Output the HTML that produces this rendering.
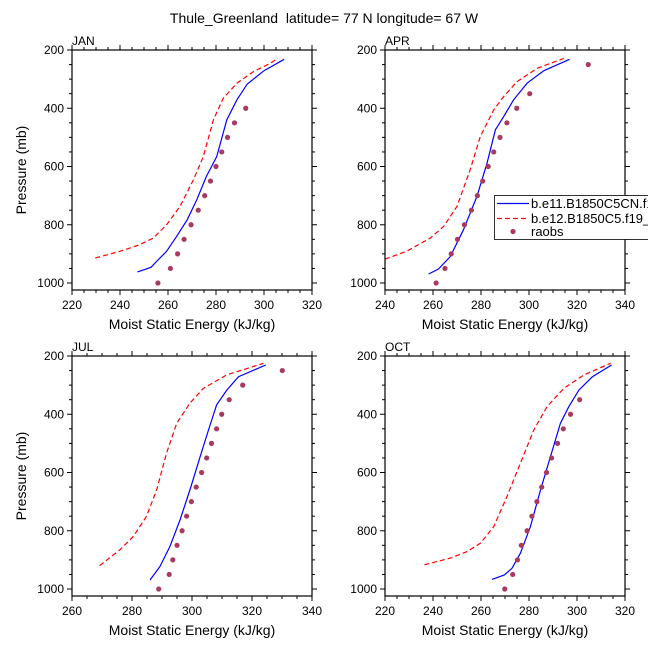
<!DOCTYPE html>
<html><head><meta charset="utf-8">
<style>
body{margin:0;background:#fff;}
svg text{font-family:"Liberation Sans",sans-serif;fill:#000;}
</style></head>
<body>
<svg id="chart" width="648" height="648" viewBox="0 0 648 648" xmlns="http://www.w3.org/2000/svg">
<text x="324" y="23" font-size="14" text-anchor="middle">Thule_Greenland&#160; latitude= 77 N longitude= 67 W</text>
</svg>
<script>
const panelNames = ["JAN","APR","JUL","OCT"];
const xMins = [220,240,260,220];
const xMaxs = [320,340,340,320];
const xTicks = [[220,240,260,280,300,320],[240,260,280,300,320,340],[260,280,300,320,340],[220,240,260,280,300,320]];
const yTicks = [200,400,600,800,1000];
const janBlueE = [247.3,252.9,255.2,259.4,263.6,268,272,276,280.3,284.5,288.7,293,300,308.4];
const janBlueP = [962,946,926,891,840,783,714,634,566,440,371,317,271,232];
const janRedE = [229.7,240,248,253.8,259.4,265,270.6,274.7,278.9,283,288.7,295.6,302.6,305.8];
const janRedP = [914,891,869,846,800,737,646,566,440,366,314,274,246,229];
const janObsP = [1000,950,900,850,800,750,700,650,600,550,500,450,400];
const janObsE = [255.8,261,264,266.7,269.6,272.6,275.3,277.7,280,282.4,284.8,287.7,292.4];
const aprBlueE = [258.2,262.3,267.2,272.7,278.3,282.5,286,289.4,293.6,299.2,306.2,316.9];
const aprBlueP = [969,952,909,817,703,589,474,429,371,314,271,232];
const aprRedE = [240,249,258.8,264.4,270,275.5,279.7,285.3,289.4,295,303.4,314.5];
const aprRedP = [918,891,846,806,737,611,497,406,360,309,263,229];
const aprObsP = [1000,950,900,850,800,750,700,650,600,550,500,450,400,350,250];
const aprObsE = [261.3,265,267.6,270.2,273.1,276,278.5,280.7,283,285.3,287.9,290.8,294.9,300.3,324.7];
const julBlueE = [286,289.3,292.6,296,299.3,302.7,305.5,308.2,311.6,315.5,324.6];
const julBlueP = [969,923,855,763,660,546,454,368,317,271,231];
const julRedE = [269.2,275.9,280.4,284.8,288.2,291.5,294.9,299.3,303.8,311.6,323.8];
const julRedP = [920,866,820,751,660,534,431,362,311,265,225];
const julObsP = [1000,950,900,850,800,750,700,650,600,550,500,450,400,350,300,250];
const julObsE = [288.9,292.4,293.6,295,296.7,298.2,299.8,301.4,303.2,304.9,306.5,308.2,309.9,312.4,316.9,330.1];
const octBlueE = [264.6,269.7,272.9,276.4,280.6,284.8,288.9,293.1,296.6,300.8,306.4,314.4];
const octBlueP = [967,952,929,877,786,660,546,431,374,317,271,231];
const octRedE = [236.4,247.2,254.1,259.7,265.3,270.8,276.4,282,287.5,294.5,302.9,314];
const octRedP = [917,894,872,843,786,683,568,454,374,311,265,225];
const octObsP = [1000,950,900,850,800,750,700,650,600,550,500,450,400,350];
const octObsE = [269.9,273.2,275.2,276.8,279.2,281.2,283.3,285.3,287.3,289.4,291.9,294.3,297.3,301.1];

const blueE=[janBlueE,aprBlueE,julBlueE,octBlueE], blueP=[janBlueP,aprBlueP,julBlueP,octBlueP];
const redE=[janRedE,aprRedE,julRedE,octRedE], redP=[janRedP,aprRedP,julRedP,octRedP];
const obsE=[janObsE,aprObsE,julObsE,octObsE], obsP=[janObsP,aprObsP,julObsP,octObsP];

const NS="http://www.w3.org/2000/svg";
const svg=document.getElementById('chart');
const boxes=[[72,50],[385,50],[72,356],[385,356]];
const W=240,H=240,PMIN=200,PMAX=1024;
function mk(tag,attrs,parent){const e=document.createElementNS(NS,tag);for(const k in attrs)e.setAttribute(k,attrs[k]);(parent||svg).appendChild(e);return e;}

for(let i=0;i<4;i++){
  const [x0,y0]=boxes[i];
  const xs=v=>x0+(v-xMins[i])/(xMaxs[i]-xMins[i])*W;
  const ys=p=>y0+(p-PMIN)/(PMAX-PMIN)*H;
  const g=mk('g',{});
  
  
  const clipId='clip'+i;
  const cp=mk('clipPath',{id:clipId},g);
  mk('rect',{x:x0,y:y0,width:W,height:H},cp);
  const tg=mk('g',{stroke:'#000','stroke-width':1},g);
  
  
  for(let v=xMins[i];v<=xMaxs[i]+0.01;v+=5){
    const maj=(v%20===0);const L=maj?5:3;const x=xs(v);
    mk('line',{x1:x,x2:x,y1:y0+H,y2:y0+H+L},tg);
    mk('line',{x1:x,x2:x,y1:y0,y2:y0-L},tg);
  }
  for(let p=200;p<=1000;p+=50){
    const maj=(p%200===0);const L=maj?5:3;const y=ys(p);
    mk('line',{x1:x0,x2:x0-L,y1:y,y2:y},tg);
    mk('line',{x1:x0+W,x2:x0+W+L,y1:y,y2:y},tg);
  }
  xTicks[i].forEach(v=>{const t=mk('text',{x:xs(v),y:y0+H+19,'font-size':12,'text-anchor':'middle'},g);t.textContent=v;
    });
  yTicks.forEach(p=>{const t=mk('text',{x:x0-8,y:ys(p)+4,'font-size':12,'text-anchor':'end'},g);t.textContent=p;
    });
  const pt=mk('text',{x:x0,y:y0-5,'font-size':12},g);pt.textContent=panelNames[i];
  
  const xt=mk('text',{x:x0+W/2,y:y0+H+39,'font-size':14,'text-anchor':'middle'},g);xt.textContent='Moist Static Energy (kJ/kg)';
  
  if(i%2===0){const yt=mk('text',{x:0,y:0,'font-size':14,'text-anchor':'middle',transform:`translate(${x0-46},${y0+H/2}) rotate(-90)`},g);yt.textContent='Pressure (mb)';
    }
  const dg=mk('g',{'clip-path':`url(#${clipId})`},g);
  const red=mk('path',{d:redE[i].map((e,k)=>(k?'L':'M')+xs(e).toFixed(1)+','+ys(redP[i][k]).toFixed(1)).join(''),fill:'none',stroke:'#ff0000','stroke-width':1.2,'stroke-dasharray':'5,3'},dg);
  
  const blue=mk('path',{d:blueE[i].map((e,k)=>(k?'L':'M')+xs(e).toFixed(1)+','+ys(blueP[i][k]).toFixed(1)).join(''),fill:'none',stroke:'#0000ff','stroke-width':1.2},dg);
  
  obsE[i].forEach((e,k)=>{const c=mk('circle',{cx:xs(e),cy:ys(obsP[i][k]),r:2.6,fill:'#a83a62'},g);
    });
  const fr=mk('rect',{x:x0,y:y0,width:W,height:H,fill:'none',stroke:'#000','stroke-width':1.2},g);
  
}
const lg=mk('g',{});


mk('rect',{x:494.5,y:195.5,width:170,height:44,fill:'#fff',stroke:'#000','stroke-width':0.8},lg);
mk('line',{x1:497,x2:529,y1:203.5,y2:203.5,stroke:'#0000ff','stroke-width':1.2},lg);
mk('line',{x1:497,x2:529,y1:218.5,y2:218.5,stroke:'#ff0000','stroke-width':1.2,'stroke-dasharray':'5,3'},lg);
mk('circle',{cx:513,cy:231.5,r:2.6,fill:'#a83a62'},lg);
[['b.e11.B1850C5CN.f19_g16',208],['b.e12.B1850C5.f19_g16',223],['raobs',236]].forEach(([s,y])=>{
  const t=mk('text',{x:531,y:y,'font-size':13},lg);t.textContent=s;
  });
</script>
</body></html>
